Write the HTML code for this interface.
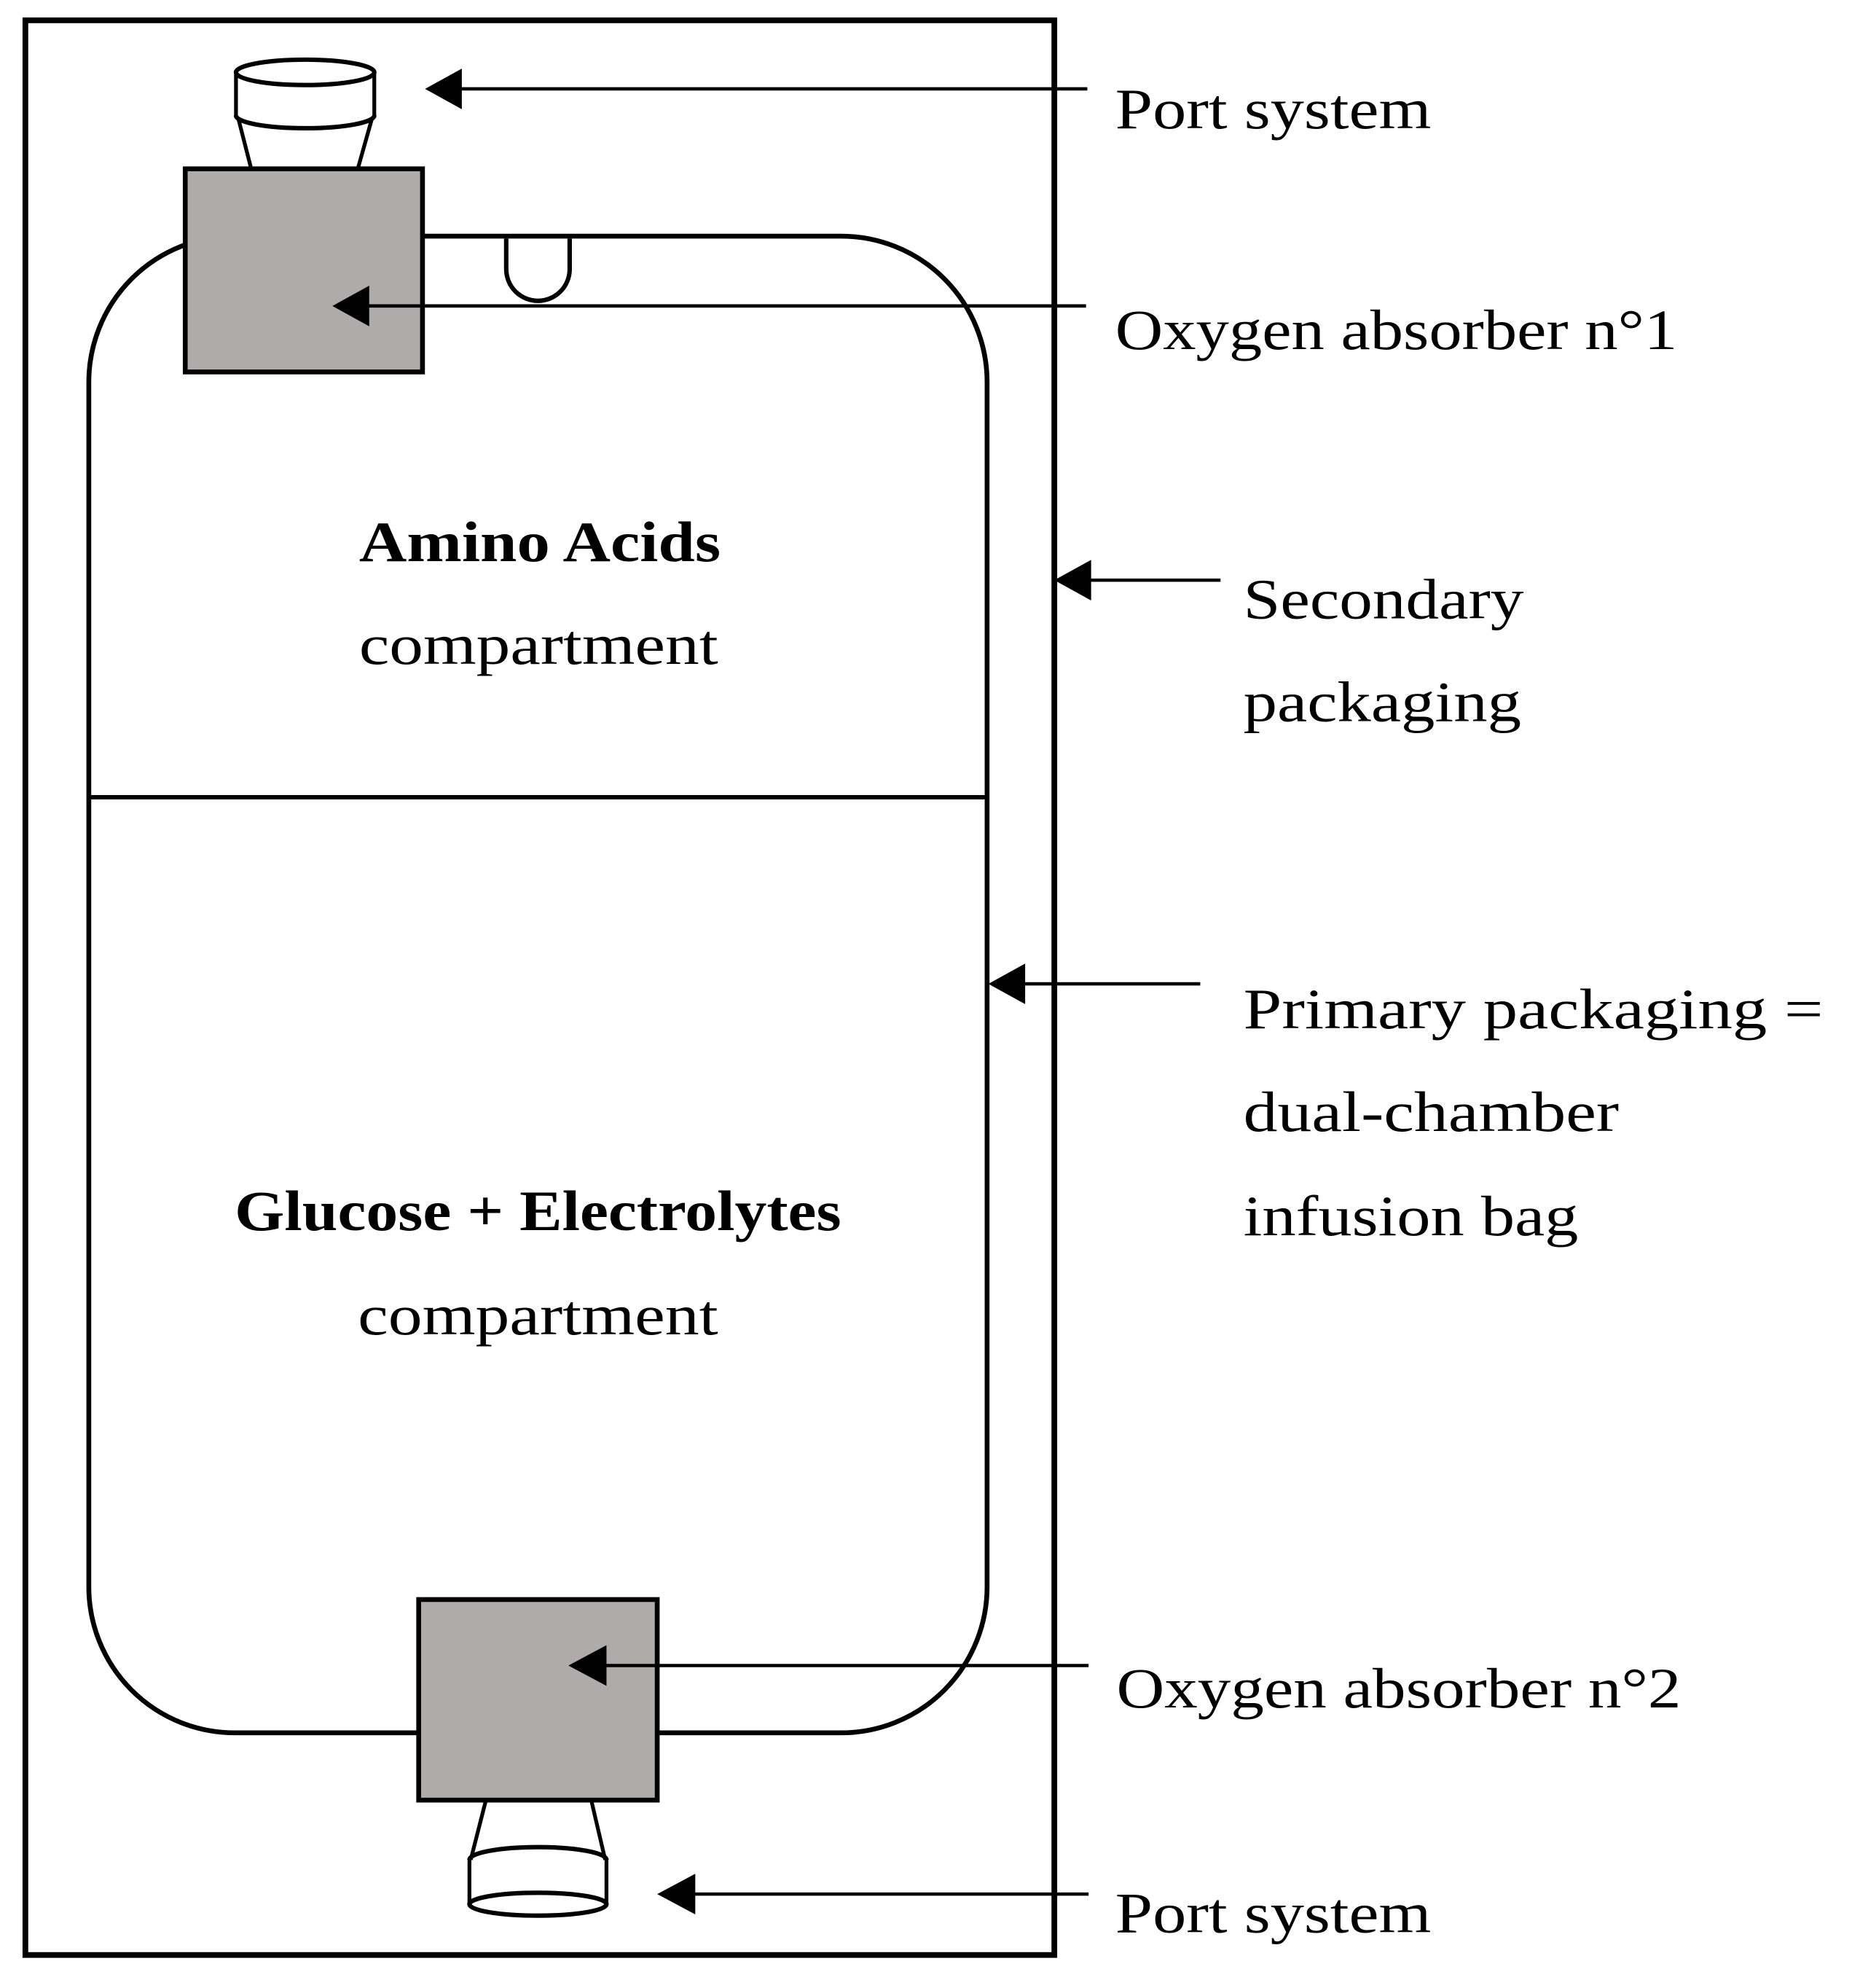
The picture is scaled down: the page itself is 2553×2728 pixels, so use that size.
<!DOCTYPE html>
<html><head><meta charset="utf-8"><style>
html,body{margin:0;padding:0;background:#fff;}
svg{display:block;}
text{font-family:"Liberation Serif",serif;font-size:45px;fill:#000;}
</style></head><body>
<svg width="2553" height="2728" viewBox="0 0 1466 1566" preserveAspectRatio="none" xmlns="http://www.w3.org/2000/svg">
<defs>
<marker id="ah" markerWidth="10" markerHeight="10" refX="0" refY="5" orient="auto" markerUnits="userSpaceOnUse"></marker>
</defs>
<!-- outer secondary packaging -->
<rect x="20" y="16" width="811" height="1524" fill="none" stroke="#000" stroke-width="4.5"/>
<!-- bag -->
<path d="M185,186 H663 A115,115 0 0 1 778,301 V1250 A115,115 0 0 1 663,1365 H185 A115,115 0 0 1 70,1250 V301 A115,115 0 0 1 185,186 Z" fill="none" stroke="#000" stroke-width="3.8"/>
<line x1="70" y1="628" x2="778" y2="628" stroke="#000" stroke-width="3.5"/>
<!-- U loop -->
<path d="M399,188 V212 A25,25 0 0 0 449,212 V188" fill="none" stroke="#000" stroke-width="3.5"/>
<!-- top port -->
<line x1="188" y1="94" x2="198" y2="133" stroke="#000" stroke-width="3"/>
<line x1="293" y1="94" x2="282" y2="133" stroke="#000" stroke-width="3"/>
<path d="M186,57 V91 M295,57 V91" stroke="#000" stroke-width="3"/>
<ellipse cx="240.5" cy="57" rx="54.5" ry="10" fill="none" stroke="#000" stroke-width="3.5"/>
<path d="M186,91 A54.5,10 0 0 0 295,91" fill="none" stroke="#000" stroke-width="3.5"/>
<!-- absorber 1 -->
<rect x="146" y="133" width="187" height="160" fill="#afabaa" stroke="#000" stroke-width="3.8"/>
<!-- absorber 2 -->
<rect x="330" y="1260" width="188" height="158" fill="#afabaa" stroke="#000" stroke-width="3.8"/>
<!-- bottom port -->
<line x1="383" y1="1418" x2="371" y2="1465" stroke="#000" stroke-width="3"/>
<line x1="466" y1="1418" x2="477" y2="1465" stroke="#000" stroke-width="3"/>
<path d="M370,1465 V1500 M478,1465 V1500" stroke="#000" stroke-width="3"/>
<path d="M370,1465 A54,10 0 0 1 478,1465" fill="none" stroke="#000" stroke-width="3.5"/>
<ellipse cx="424" cy="1500" rx="54" ry="9" fill="none" stroke="#000" stroke-width="3.5"/>
<!-- arrows -->
<g stroke="#000" stroke-width="2.6">
<line x1="857" y1="70" x2="360" y2="70"/>
<line x1="856" y1="241" x2="288" y2="241"/>
<line x1="962" y1="457" x2="858" y2="457"/>
<line x1="946" y1="775" x2="806" y2="775"/>
<line x1="858" y1="1312" x2="476" y2="1312"/>
<line x1="858" y1="1492" x2="546" y2="1492"/>
</g>
<g fill="#000">
<polygon points="335,70 364,54 364,86"/>
<polygon points="262,241 291,225 291,257"/>
<polygon points="831,457 860,441 860,473"/>
<polygon points="779,775 808,759 808,791"/>
<polygon points="448,1312 478,1296 478,1328"/>
<polygon points="518,1492 548,1476 548,1508"/>
</g>
<!-- labels -->
<text x="879" y="101" textLength="249" lengthAdjust="spacingAndGlyphs">Port system</text>
<text x="879" y="275" textLength="443" lengthAdjust="spacingAndGlyphs">Oxygen absorber n°1</text>
<text x="980" y="487" textLength="221" lengthAdjust="spacingAndGlyphs">Secondary</text>
<text x="980" y="568" textLength="219" lengthAdjust="spacingAndGlyphs">packaging</text>
<text x="980" y="810" textLength="457" lengthAdjust="spacingAndGlyphs">Primary  packaging =</text>
<text x="980" y="891" textLength="296" lengthAdjust="spacingAndGlyphs">dual-chamber</text>
<text x="980" y="973" textLength="264" lengthAdjust="spacingAndGlyphs">infusion bag</text>
<text x="880" y="1345" textLength="445" lengthAdjust="spacingAndGlyphs">Oxygen absorber n°2</text>
<text x="879" y="1522" textLength="249" lengthAdjust="spacingAndGlyphs">Port system</text>
<text x="283" y="442" font-weight="bold" textLength="285" lengthAdjust="spacingAndGlyphs">Amino Acids</text>
<text x="283" y="523" textLength="283" lengthAdjust="spacingAndGlyphs">compartment</text>
<text x="185" y="969" font-weight="bold" textLength="478" lengthAdjust="spacingAndGlyphs">Glucose + Electrolytes</text>
<text x="282" y="1051" textLength="284" lengthAdjust="spacingAndGlyphs">compartment</text>
</svg>
</body></html>
